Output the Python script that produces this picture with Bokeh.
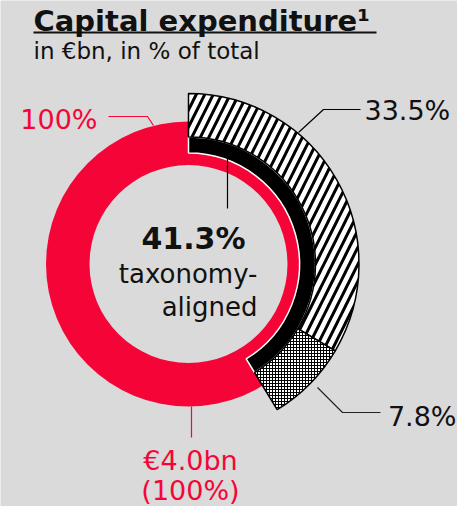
import math
from bokeh.plotting import figure
from bokeh.models import Range1d
from bokeh.core.properties import value
from bokeh.embed import file_html
from bokeh.resources import INLINE

# ---- data ----
total_label = "€4.0bn"
total_pct = 100.0
segment_labels = ["33.5%", "7.8%"]
segment_shares = [33.5, 7.8]
aligned_share = 41.3
title = "Capital expenditure¹"
subtitle = "in €bn, in % of total"

# ---- layout (picture pixel coords -> data coords) ----
W, H = 457, 506
TB = 7  # baseline correction for text
def X(wx):
    return wx
def Y(wy):
    return H - wy
def YT(wy):
    return H - wy + TB

BG = "#dadada"
RED = "#f50537"
FONT = "DejaVu Sans"

p = figure(width=W, height=H, output_backend="svg", toolbar_location=None,
           x_range=Range1d(0, W), y_range=Range1d(0, H), min_border=0)
p.axis.visible = False
p.grid.visible = False
p.outline_line_color = None
p.background_fill_color = BG
p.border_fill_color = BG

cx, cy = X(188), Y(263.5)

# red full ring
p.annulus(x=[cx], y=[cy], inner_radius=99, outer_radius=142.5,
          fill_color=RED, line_color=None)

def ang(share):
    return math.pi / 2 - 2 * math.pi * share / total_pct

# black taxonomy-aligned arc
p.annular_wedge(x=[cx], y=[cy], inner_radius=111, outer_radius=127,
                start_angle=[math.pi / 2], end_angle=[ang(aligned_share)],
                direction="clock", fill_color="black", line_color="white",
                line_width=1.5)

# hatched outer segments
a0, a1, a2 = ang(0), ang(segment_shares[0]), ang(segment_shares[0] + segment_shares[1])
p.annular_wedge(x=[cx], y=[cy], inner_radius=127, outer_radius=170.5,
                start_angle=[a0], end_angle=[a1], direction="clock",
                fill_color="white", hatch_pattern="/", hatch_color="black",
                hatch_scale=17, hatch_weight=3,
                line_color="black", line_width=1.5)
p.annular_wedge(x=[cx], y=[cy], inner_radius=127, outer_radius=170.5,
                start_angle=[a1], end_angle=[a2], direction="clock",
                fill_color="white", hatch_pattern="+", hatch_color="black",
                hatch_scale=3, hatch_weight=1,
                line_color="black", line_width=1.5)

# leader lines
p.line(x=[X(108), X(147), X(153)], y=[Y(116), Y(116), Y(125)], line_color=RED, line_width=1.2)
p.line(x=[X(360), X(323), X(298)], y=[Y(109), Y(109), Y(132)], line_color="black", line_width=1.2)
p.line(x=[X(380), X(342), X(317)], y=[Y(412), Y(412), Y(387)], line_color="#222222", line_width=1.2)
p.line(x=[X(227), X(227)], y=[Y(208), Y(158)], line_color="black", line_width=1.2)
p.line(x=[X(191), X(191)], y=[Y(406), Y(437)], line_color=RED, line_width=1.2)

# title + underline
p.text(x=[X(33)], y=[YT(27)], text=[title], text_font=value(FONT), text_font_size="29px",
       text_font_style="bold", text_color="#111111", text_baseline="alphabetic", text_align="left")
p.segment(x0=[X(33)], y0=[Y(32)], x1=[X(376)], y1=[Y(32)], line_color="#111111", line_width=2.2)
p.text(x=[X(33)], y=[YT(57)], text=[subtitle], text_font=value(FONT), text_font_size="23px",
       text_color="#111111", text_baseline="alphabetic", text_align="left")

# labels
p.text(x=[X(97)], y=[YT(126)], text=["%d%%" % total_pct], text_font=value(FONT), text_font_size="27px",
       text_color=RED, text_baseline="alphabetic", text_align="right")
p.text(x=[X(364)], y=[YT(117)], text=[segment_labels[0]], text_font=value(FONT), text_font_size="27px",
       text_color="#111111", text_baseline="alphabetic", text_align="left")
p.text(x=[X(456)], y=[YT(423)], text=[segment_labels[1]], text_font=value(FONT), text_font_size="27px",
       text_color="#111111", text_baseline="alphabetic", text_align="right")

p.text(x=[X(193)], y=[YT(245)], text=["%.1f%%" % aligned_share], text_font=value(FONT), text_font_size="30px",
       text_font_style="bold", text_color="#111111", text_baseline="alphabetic", text_align="center")
p.text(x=[X(257), X(257)], y=[YT(280), YT(313)], text=["taxonomy-", "aligned"], text_font=value(FONT),
       text_font_size="26px", text_color="#111111", text_baseline="alphabetic", text_align="right")

p.text(x=[X(190), X(190)], y=[YT(467), YT(497)], text=[total_label, "(%d%%)" % total_pct], text_font=value(FONT),
       text_font_size="27px", text_color=RED, text_baseline="alphabetic", text_align="center")

open("out.html", "w").write(file_html(p, INLINE))
